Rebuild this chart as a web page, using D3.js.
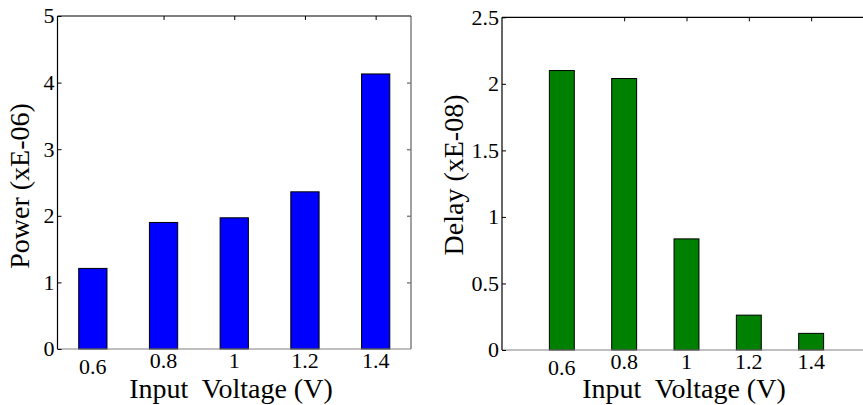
<!DOCTYPE html>
<html>
<head>
<meta charset="utf-8">
<script src="https://cdn.jsdelivr.net/npm/d3@7"></script>
<style>
html,body{margin:0;padding:0;background:#fff;}
svg{display:block;}
text{font-family:"Liberation Serif","Times New Roman",serif;fill:#000;}
</style>
</head>
<body>
<svg id="chart" width="863" height="405"></svg>
<script>
const categories = ["0.6", "0.8", "1", "1.2", "1.4"];
const powerValues = [1.21, 1.90, 1.97, 2.36, 4.13];
const delayValues = [2.10, 2.04, 0.835, 0.262, 0.125];
const powerTicks = [0, 1, 2, 3, 4, 5];
const delayTicks = [0, 0.5, 1, 1.5, 2, 2.5];
const powerLabel = "Power (xE-06)";
const delayLabel = "Delay (xE-08)";
const xLabel = "Input  Voltage (V)";

const svg = d3.select("#chart");

function panel(cfg) {
  const g = svg.append("g");
  const x = d3.scaleLinear().domain(cfg.xDomain).range([cfg.left, cfg.right]);
  const y = d3.scaleLinear().domain([0, cfg.yMax]).range([cfg.bottom, cfg.top]);
  const step = x(2) - x(1);
  const bw = step * 0.4;
  const idx = d => categories.indexOf(d) + 1;

  g.selectAll("rect.bar").data(cfg.values).join("rect")
    .attr("class", "bar")
    .attr("x", (d, i) => x(i + 1) - bw / 2)
    .attr("width", bw)
    .attr("y", d => y(d))
    .attr("height", d => y(0) - y(d))
    .attr("fill", cfg.color)
    .attr("stroke", "#000")
    .attr("stroke-width", 1);

  g.append("line").attr("x1", cfg.left).attr("x2", cfg.boxRight)
    .attr("y1", y(0)).attr("y2", y(0)).attr("stroke", "#808080").attr("stroke-width", 1.2);
  if (cfg.showRight) {
    g.append("line").attr("x1", cfg.boxRight).attr("x2", cfg.boxRight)
      .attr("y1", cfg.top).attr("y2", cfg.bottom).attr("stroke", "#808080").attr("stroke-width", 1.5);
    const rt = g.append("g").attr("transform", `translate(${cfg.boxRight},0)`)
      .call(d3.axisLeft(y).tickValues(cfg.yTicks.slice(1, -1)).tickSize(4).tickFormat(""));
    rt.select(".domain").remove();
    rt.selectAll("line").attr("stroke", "#808080").attr("stroke-width", 1.5);
  }
  g.append("line").attr("x1", cfg.left).attr("x2", cfg.boxRight)
    .attr("y1", cfg.top).attr("y2", cfg.top).attr("stroke", "#000").attr("stroke-width", 1.2);

  const ya = g.append("g").attr("transform", `translate(${cfg.left},0)`)
    .call(d3.axisRight(y).tickValues(cfg.yTicks).tickSize(4).tickFormat(""));
  ya.select(".domain").attr("stroke", "#000").attr("stroke-width", 1.2).attr("d", `M0,${cfg.top}V${cfg.bottom}`);
  ya.selectAll("line").attr("stroke", "#000");
  g.selectAll("text.ytick").data(cfg.yTicks).join("text")
    .attr("class", "ytick")
    .attr("x", cfg.left - 3)
    .attr("y", d => y(d))
    .attr("dy", "0.34em")
    .attr("text-anchor", "end")
    .style("font-size", "22px")
    .text(d => d3.format("~g")(d));

  const ta = g.append("g").attr("transform", `translate(0,${cfg.top})`)
    .call(d3.axisBottom(x).tickValues(categories.slice(1).map(idx)).tickSize(4).tickFormat(""));
  ta.select(".domain").remove();
  ta.selectAll("line").attr("stroke", "#000");

  g.selectAll("text.xtick").data(categories).join("text")
    .attr("class", "xtick")
    .attr("x", d => x(idx(d)))
    .attr("y", (d, i) => i === 0 ? cfg.bottom + 25 : cfg.bottom + 19)
    .attr("text-anchor", "middle")
    .style("font-size", "22px")
    .text(d => d);

  g.append("text")
    .attr("x", cfg.titleX)
    .attr("y", 398)
    .attr("text-anchor", "middle")
    .style("font-size", "28px")
    .style("white-space", "pre")
    .text(xLabel);
  g.append("text")
    .attr("transform", `translate(${cfg.yTitleX},${cfg.yTitleY}) rotate(-90)`)
    .attr("text-anchor", "middle")
    .style("font-size", "28px")
    .text(cfg.yLabel);
}

panel({
  values: powerValues, yTicks: powerTicks, yMax: 5, color: "#0000ff",
  xDomain: [0.5, 5.5], left: 57.5, right: 411, boxRight: 411, showRight: true,
  top: 16, bottom: 349, titleX: 231, yTitleX: 29, yTitleY: 186, yLabel: powerLabel
});
panel({
  values: delayValues, yTicks: delayTicks, yMax: 2.5, color: "#008000",
  xDomain: [0.04, 5.88], left: 502, right: 866, boxRight: 866, showRight: false,
  top: 17.3, bottom: 350, titleX: 684, yTitleX: 463, yTitleY: 175, yLabel: delayLabel
});
</script>
</body>
</html>
